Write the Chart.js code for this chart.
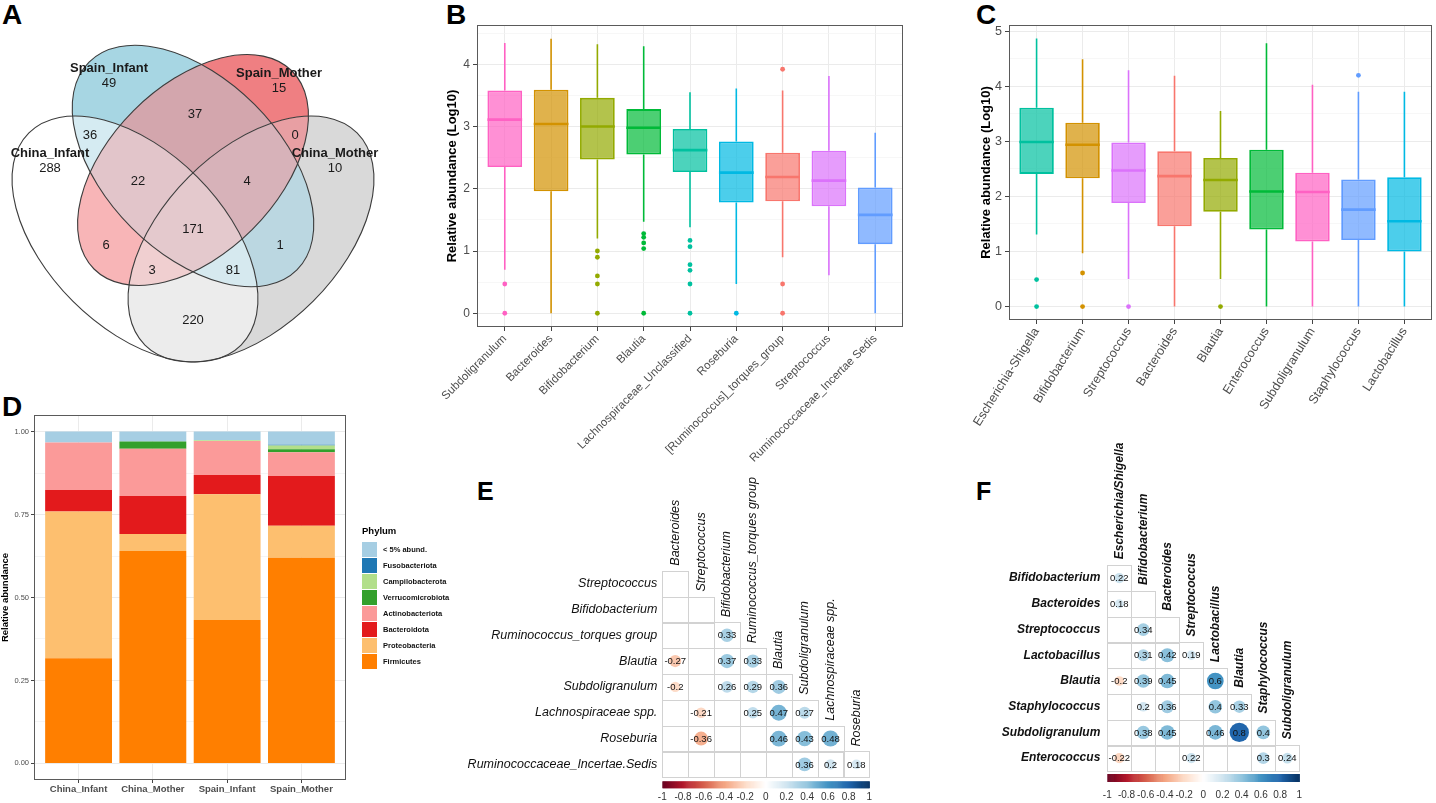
<!DOCTYPE html>
<html><head><meta charset="utf-8">
<script src="https://cdn.jsdelivr.net/npm/chart.js@4.4.1/dist/chart.umd.min.js"></script>
<style>
html,body{margin:0;padding:0;background:#fff;}
body{width:1436px;height:803px;overflow:hidden;position:relative;}
canvas{position:absolute;}
.lab{position:absolute;font-family:'Liberation Sans',Arial,sans-serif;font-weight:bold;color:#000;}
</style></head><body>
<div class="lab" style="left:2px;top:1px;font-size:28px;line-height:28px">A</div>
<div class="lab" style="left:446px;top:1px;font-size:28px;line-height:28px">B</div>
<div class="lab" style="left:976px;top:1px;font-size:28px;line-height:28px">C</div>
<div class="lab" style="left:2px;top:393px;font-size:28px;line-height:28px">D</div>
<div class="lab" style="left:477px;top:479px;font-size:25px;line-height:25px">E</div>
<div class="lab" style="left:976px;top:479px;font-size:25px;line-height:25px">F</div>
<canvas id="cA" width="410" height="385" style="left:0;top:0;width:410px;height:385px"></canvas>
<canvas id="cB" width="500" height="470" style="left:410px;top:0;width:500px;height:470px"></canvas>
<canvas id="cC" width="516" height="470" style="left:920px;top:0;width:516px;height:470px"></canvas>
<canvas id="cD" width="460" height="413" style="left:0;top:390px;width:460px;height:413px"></canvas>
<canvas id="cE" width="425" height="403" style="left:465px;top:400px;width:425px;height:403px"></canvas>
<canvas id="cF" width="476" height="403" style="left:960px;top:400px;width:476px;height:403px"></canvas>
<script>
// ================= DATA =================
// A: Venn
const vennSetNames = ['China_Infant', 'Spain_Infant', 'Spain_Mother', 'China_Mother'];
const vennRegions = [
  'China_Infant', 'Spain_Infant', 'Spain_Mother', 'China_Mother',
  'China_Infant&Spain_Infant', 'Spain_Infant&Spain_Mother', 'Spain_Mother&China_Mother',
  'China_Infant&Spain_Infant&Spain_Mother', 'Spain_Infant&Spain_Mother&China_Mother',
  'China_Infant&Spain_Infant&Spain_Mother&China_Mother',
  'China_Infant&Spain_Mother', 'Spain_Infant&China_Mother',
  'China_Infant&Spain_Mother&China_Mother', 'China_Infant&Spain_Infant&China_Mother',
  'China_Infant&China_Mother'];
const vennCounts = [288, 49, 15, 10, 36, 37, 0, 22, 4, 171, 6, 1, 3, 81, 220];

// B: boxplots (log10 relative abundance), infants? group B
const bGenera = ['Subdoligranulum', 'Bacteroides', 'Bifidobacterium', 'Blautia', 'Lachnospiraceae_Unclassified', 'Roseburia', '[Ruminococcus]_torques_group', 'Streptococcus', 'Ruminococcaceae_Incertae Sedis'];
const bLow  = [0.70, 0.00, 1.20, 1.47, 1.38, 0.47, 0.90, 0.61, 0.00];
const bQ1   = [2.35, 1.96, 2.47, 2.55, 2.27, 1.78, 1.80, 1.72, 1.11];
const bMed  = [3.11, 3.04, 3.00, 2.98, 2.62, 2.26, 2.19, 2.13, 1.58];
const bQ3   = [3.58, 3.59, 3.46, 3.28, 2.96, 2.76, 2.58, 2.61, 2.02];
const bHigh = [4.34, 4.41, 4.32, 4.29, 3.55, 3.61, 3.58, 3.81, 2.90];
const bOutliers = [[0.47, 0], [], [1.0, 0.9, 0.6, 0.47, 0], [1.28, 1.22, 1.13, 1.04, 0], [1.17, 1.07, 0.78, 0.69, 0.47, 0], [0], [3.92, 0.47, 0], [], []];
const bYMajor = [0, 1, 2, 3, 4];
const bYMinor = [0.5, 1.5, 2.5, 3.5, 4.5];

// C
const cGenera = ['Escherichia-Shigella', 'Bifidobacterium', 'Streptococcus', 'Bacteroides', 'Blautia', 'Enterococcus', 'Subdoligranulum', 'Staphylococcus', 'Lactobacillus'];
const cLow  = [1.31, 0.97, 0.50, 0.00, 0.50, 0.00, 0.00, 0.00, 0.00];
const cQ1   = [2.41, 2.33, 1.88, 1.46, 1.72, 1.40, 1.18, 1.21, 1.00];
const cMed  = [2.99, 2.94, 2.47, 2.37, 2.30, 2.09, 2.08, 1.76, 1.55];
const cQ3   = [3.61, 3.34, 2.98, 2.82, 2.70, 2.85, 2.43, 2.31, 2.35];
const cHigh = [4.87, 4.49, 4.29, 4.19, 3.55, 4.78, 4.03, 3.90, 3.90];
const cOutliers = [[0.49, 0], [0.61, 0], [0], [], [0], [], [], [4.20], []];
const cYMajor = [0, 1, 2, 3, 4, 5];
const cYMinor = [0.5, 1.5, 2.5, 3.5, 4.5];

// D: phylum composition
const dGroups = ['China_Infant', 'China_Mother', 'Spain_Infant', 'Spain_Mother'];
const dPhyla = ['Firmicutes', 'Proteobacteria', 'Bacteroidota', 'Actinobacteriota', 'Verrucomicrobiota', 'Campilobacterota', 'Fusobacteriota', '< 5% abund.'];
const dFirmicutes        = [0.317, 0.640, 0.432, 0.620];
const dProteobacteria    = [0.442, 0.051, 0.379, 0.096];
const dBacteroidota      = [0.065, 0.115, 0.058, 0.150];
const dActinobacteriota  = [0.143, 0.142, 0.103, 0.072];
const dVerrucomicrobiota = [0.000, 0.022, 0.000, 0.009];
const dCampilobacterota  = [0.000, 0.000, 0.002, 0.011];
const dFusobacteriota    = [0.000, 0.000, 0.000, 0.002];
const dLowAbund          = [0.033, 0.030, 0.026, 0.040];
const dYMajor = [0, 0.25, 0.5, 0.75, 1];
const dYMinor = [0.125, 0.375, 0.625, 0.875];

// E: correlations
const eRows = ['Streptococcus', 'Bifidobacterium', 'Ruminococcus_torques group', 'Blautia', 'Subdoligranulum', 'Lachnospiraceae spp.', 'Roseburia', 'Ruminococcaceae_Incertae.Sedis'];
const eCols = ['Bacteroides', 'Streptococcus', 'Bifidobacterium', 'Ruminococcus_torques group', 'Blautia', 'Subdoligranulum', 'Lachnospiraceae spp.', 'Roseburia'];
const eRowIdx = [2, 3, 3, 3, 4, 4, 4, 4, 5, 5, 5, 5, 6, 6, 6, 6, 7, 7, 7];
const eColIdx = [2, 0, 2, 3, 0, 2, 3, 4, 1, 3, 4, 5, 1, 4, 5, 6, 5, 6, 7];
const eR      = [0.33, -0.27, 0.37, 0.33, -0.2, 0.26, 0.29, 0.36, -0.21, 0.25, 0.47, 0.27, -0.36, 0.46, 0.43, 0.48, 0.36, 0.2, 0.18];

// F
const fRows = ['Bifidobacterium', 'Bacteroides', 'Streptococcus', 'Lactobacillus', 'Blautia', 'Staphylococcus', 'Subdoligranulum', 'Enterococcus'];
const fCols = ['Escherichia/Shigella', 'Bifidobacterium', 'Bacteroides', 'Streptococcus', 'Lactobacillus', 'Blautia', 'Staphylococcus', 'Subdoligranulum'];
const fRowIdx = [0, 1, 2, 3, 3, 3, 4, 4, 4, 4, 5, 5, 5, 5, 6, 6, 6, 6, 6, 7, 7, 7, 7];
const fColIdx = [0, 0, 1, 1, 2, 3, 0, 1, 2, 4, 1, 2, 4, 5, 1, 2, 4, 5, 6, 0, 3, 6, 7];
const fR      = [0.22, 0.18, 0.34, 0.31, 0.42, 0.19, -0.2, 0.39, 0.45, 0.6, 0.2, 0.36, 0.4, 0.33, 0.38, 0.45, 0.46, 0.8, 0.4, -0.22, 0.22, 0.3, 0.24];
const corrBarTicks = [-1, -0.8, -0.6, -0.4, -0.2, 0, 0.2, 0.4, 0.6, 0.8, 1];

// ================= STYLES / LAYOUT =================
const FONT = "'Liberation Sans', Arial, Helvetica, sans-serif";
Chart.defaults.font.family = FONT;
Chart.defaults.color = '#4d4d4d';
Chart.defaults.animation = false;
Chart.defaults.events = [];
Chart.defaults.responsive = false;
Chart.defaults.devicePixelRatio = 1;
Chart.defaults.plugins.legend.display = false;
Chart.defaults.plugins.tooltip.enabled = false;

const bColors = ['#FF61C3', '#D39200', '#93AA00', '#00BA38', '#00C19F', '#00B9E3', '#F8766D', '#DB72FB', '#619CFF'];
const cColors = ['#00C19F', '#D39200', '#DB72FB', '#F8766D', '#93AA00', '#00BA38', '#FF61C3', '#619CFF', '#00B9E3'];
const dColors = ['#FF7F00', '#FDBF6F', '#E31A1C', '#FB9A99', '#33A02C', '#B2DF8A', '#1F78B4', '#A6CEE3'];

// Venn geometry (chart units == px)
const vennEllipses = [
  {cx: 135, cy: 239, a: 150, b: 88, rot: Math.PI / 4},
  {cx: 193, cy: 166, a: 147, b: 87, rot: Math.PI / 4},
  {cx: 193, cy: 170, a: 140, b: 84, rot: -Math.PI / 4},
  {cx: 251, cy: 239, a: 150, b: 88, rot: -Math.PI / 4}
];
const vennCountPos = [[50, 168], [109, 83], [279, 88], [335, 168], [90, 135], [195, 114], [295, 135], [138, 181], [247, 181], [193, 229], [106, 245], [280, 245], [152, 270], [233, 270], [193, 320]];
const vennNamePos = [[50, 153], [109, 68], [279, 73], [335, 153]];
const vennRegionColor = {1: '#ffffff', 2: '#a7d6e3', 4: '#ef7f82', 8: '#d9d9d9', 3: '#d5ebf2', 5: '#f8b5b7', 9: '#ececec',
  6: '#d3a6ad', 10: '#bbd7e1', 12: '#e89fa3', 7: '#e2c5ca', 11: '#d6e9ef', 13: '#f0cfd0', 14: '#d7b2b9', 15: '#e4c9cd'};

function hexA(h, a) {
  const n = parseInt(h.slice(1), 16);
  return `rgba(${(n >> 16) & 255},${(n >> 8) & 255},${n & 255},${a})`;
}
const rdbu = ['#67001F', '#B2182B', '#D6604D', '#F4A582', '#FDDBC7', '#FFFFFF', '#D1E5F0', '#92C5DE', '#4393C3', '#2166AC', '#053061'];
function corrColor(v) {
  const t = (Math.max(-1, Math.min(1, v)) + 1) / 2 * 10;
  const i = Math.min(9, Math.floor(t)), f = t - i;
  const p = parseInt(rdbu[i].slice(1), 16), q = parseInt(rdbu[i + 1].slice(1), 16);
  const ch = s => Math.round(((p >> s) & 255) * (1 - f) + ((q >> s) & 255) * f);
  return `rgb(${ch(16)},${ch(8)},${ch(0)})`;
}

const framePlugin = {
  id: 'frame',
  afterDraw(ch) {
    const {ctx, chartArea: c} = ch;
    ctx.save();
    ctx.strokeStyle = '#5a5a5a'; ctx.lineWidth = 1;
    ctx.strokeRect(Math.round(c.left) + 0.5, Math.round(c.top) + 0.5, Math.round(c.right - c.left) - 1, Math.round(c.bottom - c.top) - 1);
    ctx.restore();
  }
};

// ================= A: Venn =================
(function () {
  const masks = vennRegions.map(r => r.split('&').reduce((m, s) => m | (1 << vennSetNames.indexOf(s)), 0));
  const plugin = {
    id: 'venn',
    beforeDatasetsDraw(chart) {
      const {ctx, scales: {x, y}} = chart;
      const k = Math.abs(x.getPixelForValue(1) - x.getPixelForValue(0));
      const path = e => ctx.ellipse(x.getPixelForValue(e.cx), y.getPixelForValue(e.cy), e.a * k, e.b * k, e.rot, 0, Math.PI * 2);
      const W = chart.width, H = chart.height;
      masks.forEach(m => {
        ctx.save();
        vennEllipses.forEach((e, i) => {
          ctx.beginPath();
          if (m & (1 << i)) { path(e); ctx.clip(); }
          else { ctx.rect(0, 0, W, H); path(e); ctx.clip('evenodd'); }
        });
        ctx.fillStyle = vennRegionColor[m];
        ctx.fillRect(0, 0, W, H);
        ctx.restore();
      });
      ctx.save();
      ctx.strokeStyle = '#3c3c3c'; ctx.lineWidth = 1.1;
      vennEllipses.forEach(e => { ctx.beginPath(); path(e); ctx.stroke(); });
      ctx.restore();
    },
    afterDatasetsDraw(chart) {
      const {ctx, scales: {x, y}} = chart;
      ctx.save();
      ctx.fillStyle = '#1a1a1a'; ctx.textAlign = 'center'; ctx.textBaseline = 'middle';
      ctx.font = `13px ${FONT}`;
      chart.getDatasetMeta(0).data.forEach((el, i) => ctx.fillText(String(vennCounts[i]), el.x, el.y));
      ctx.font = `bold 13px ${FONT}`;
      vennSetNames.forEach((s, i) => ctx.fillText(s, x.getPixelForValue(vennNamePos[i][0]), y.getPixelForValue(vennNamePos[i][1])));
      ctx.restore();
    }
  };
  new Chart(document.getElementById('cA'), {
    type: 'scatter',
    data: {datasets: [{data: vennCounts.map((v, i) => ({x: vennCountPos[i][0], y: vennCountPos[i][1], v})), pointRadius: 0}]},
    options: {
      layout: {padding: 0},
      scales: {x: {type: 'linear', min: 0, max: 410, display: false}, y: {type: 'linear', min: 0, max: 385, reverse: true, display: false}}
    },
    plugins: [plugin]
  });
})();

// ================= B, C: boxplots =================
function makeBox(id, d, L) {
  const n = d.names.length;
  const all = d.low.concat(d.high, d.outliers.flat());
  const lo = Math.min(...all), hi = Math.max(...all), pad = (hi - lo) * 0.05;
  const ticks = d.yMajor.concat(d.yMinor).sort((a, b) => a - b);
  const isMaj = v => d.yMajor.includes(v);
  const outPts = [], outCols = [];
  d.outliers.forEach((arr, i) => arr.forEach(v => { outPts.push({x: i, y: v}); outCols.push(d.colors[i]); }));
  const extras = {
    id: 'boxExtras',
    afterDatasetsDraw(chart) {
      const {ctx, scales: {y}} = chart;
      const meta = chart.getDatasetMeta(0);
      ctx.save();
      meta.data.forEach((bar, i) => {
        ctx.strokeStyle = d.colors[i];
        ctx.lineWidth = 1.6;
        ctx.beginPath();
        ctx.moveTo(bar.x, y.getPixelForValue(d.high[i])); ctx.lineTo(bar.x, y.getPixelForValue(d.q3[i]));
        ctx.moveTo(bar.x, y.getPixelForValue(d.q1[i])); ctx.lineTo(bar.x, y.getPixelForValue(d.low[i]));
        ctx.stroke();
        ctx.lineWidth = 2.6;
        ctx.beginPath();
        const ym = y.getPixelForValue(d.med[i]);
        ctx.moveTo(bar.x - bar.width / 2, ym); ctx.lineTo(bar.x + bar.width / 2, ym);
        ctx.stroke();
      });
      ctx.restore();
    }
  };
  return new Chart(document.getElementById(id), {
    type: 'bar',
    data: {datasets: [
      {type: 'bar', data: d.names.map((_, i) => ({x: i, y: [d.q1[i], d.q3[i]]})),
       backgroundColor: d.colors.map(c => hexA(c, 0.7)), borderColor: d.colors, borderWidth: 1.8,
       borderSkipped: false, barPercentage: 0.75, categoryPercentage: 1, grouped: false},
      {type: 'scatter', data: outPts, pointRadius: 2.4, pointBackgroundColor: outCols, pointBorderWidth: 0, pointBorderColor: 'rgba(0,0,0,0)'}
    ]},
    options: {
      layout: {padding: {top: L.top, right: L.right, left: 0, bottom: 0}},
      scales: {
        x: {type: 'linear', offset: false, min: -0.6, max: n - 1 + 0.6,
          afterBuildTicks: s => { s.ticks = d.names.map((_, i) => ({value: i})); },
          afterFit: s => { s.height = L.xh; },
          grid: {offset: false, color: '#ebebeb', lineWidth: 1, tickColor: '#444', tickLength: 4},
          border: {display: false},
          ticks: {autoSkip: false, minRotation: L.rot, maxRotation: L.rot, padding: 1, color: '#4d4d4d', font: {size: L.xfs}, callback: v => d.names[v]}},
        y: {type: 'linear', min: lo - pad, max: hi + pad,
          afterBuildTicks: s => { s.ticks = ticks.map(v => ({value: v})); },
          afterFit: s => { s.width = L.yw; },
          grid: {color: c => (c.tick && isMaj(c.tick.value)) ? '#ebebeb' : '#f4f4f4',
                 lineWidth: c => (c.tick && isMaj(c.tick.value)) ? 1 : 0.7,
                 tickColor: c => (c.tick && isMaj(c.tick.value)) ? '#444' : 'rgba(0,0,0,0)', tickLength: 4},
          border: {display: false},
          ticks: {padding: 3, color: '#4d4d4d', font: {size: L.yfs}, callback: v => isMaj(v) ? String(v) : ''},
          title: {display: true, text: 'Relative abundance (Log10)', color: '#000', font: {size: 13, weight: 'bold'}, padding: {top: L.titlePad, bottom: 0}}}
      }
    },
    plugins: [extras, framePlugin]
  });
}
makeBox('cB', {names: bGenera, low: bLow, q1: bQ1, med: bMed, q3: bQ3, high: bHigh, outliers: bOutliers, colors: bColors, yMajor: bYMajor, yMinor: bYMinor},
  {top: 25, right: 7, xh: 143, yw: 67, rot: 45, xfs: 11.5, yfs: 12, titlePad: 35});
makeBox('cC', {names: cGenera, low: cLow, q1: cQ1, med: cMed, q3: cQ3, high: cHigh, outliers: cOutliers, colors: cColors, yMajor: cYMajor, yMinor: cYMinor},
  {top: 25, right: 3, xh: 150, yw: 89, rot: 58, xfs: 12.5, yfs: 12.5, titlePad: 59});

// ================= D: stacked bars =================
(function () {
  const vals = [dFirmicutes, dProteobacteria, dBacteroidota, dActinobacteriota, dVerrucomicrobiota, dCampilobacterota, dFusobacteriota, dLowAbund];
  const ticks = dYMajor.concat(dYMinor).sort((a, b) => a - b);
  const isMaj = v => dYMajor.includes(v);
  const totals = dGroups.map((_, i) => vals.reduce((s, a) => s + a[i], 0));
  const top = Math.max(...totals), pad = top * 0.05;
  const legend = {
    id: 'phylumLegend',
    afterDraw(chart) {
      const {ctx} = chart;
      const x0 = chart.chartArea.right + 16, y0 = 141;
      ctx.save();
      ctx.fillStyle = '#000'; ctx.textBaseline = 'middle'; ctx.textAlign = 'left';
      ctx.font = `bold 9.5px ${FONT}`;
      ctx.fillText('Phylum', x0, y0);
      ctx.font = `bold 7.5px ${FONT}`;
      const ds = chart.data.datasets.slice().reverse();
      ds.forEach((d, k) => {
        const yy = y0 + 11 + k * 16;
        ctx.fillStyle = d.backgroundColor;
        ctx.fillRect(x0, yy, 15, 15);
        ctx.fillStyle = '#111';
        ctx.fillText(d.label, x0 + 21, yy + 8);
      });
      ctx.restore();
    }
  };
  new Chart(document.getElementById('cD'), {
    type: 'bar',
    data: {datasets: dPhyla.map((p, k) => ({label: p, data: vals[k].map((v, i) => ({x: i, y: v})),
      backgroundColor: dColors[k], borderWidth: 0, barPercentage: 0.9, categoryPercentage: 1}))},
    options: {
      layout: {padding: {top: 25, right: 114, left: 0, bottom: 0}},
      scales: {
        x: {type: 'linear', stacked: true, offset: false, min: -0.6, max: dGroups.length - 1 + 0.6,
          afterBuildTicks: s => { s.ticks = dGroups.map((_, i) => ({value: i})); },
          afterFit: s => { s.height = 23; },
          grid: {offset: false, color: '#ebebeb', tickColor: '#444', tickLength: 3},
          border: {display: false},
          ticks: {autoSkip: false, maxRotation: 0, minRotation: 0, padding: 1, color: '#4d4d4d', font: {size: 9.5, weight: 'bold'}, callback: v => dGroups[v]}},
        y: {type: 'linear', stacked: true, min: -pad, max: top + pad,
          afterBuildTicks: s => { s.ticks = ticks.map(v => ({value: v})); },
          afterFit: s => { s.width = 34; },
          grid: {color: c => (c.tick && isMaj(c.tick.value)) ? '#ebebeb' : '#f5f5f5',
                 tickColor: c => (c.tick && isMaj(c.tick.value)) ? '#444' : 'rgba(0,0,0,0)', tickLength: 3},
          border: {display: false},
          ticks: {padding: 2, color: '#4d4d4d', font: {size: 7.5}, callback: v => isMaj(v) ? v.toFixed(2) : ''},
          title: {display: true, text: 'Relative abundance', color: '#000', font: {size: 9.5, weight: 'bold'}, padding: {top: 0, bottom: 0}}}
      }
    },
    plugins: [legend, framePlugin]
  });
})();

// ================= E, F: correlation matrices =================
function makeCorr(id, d, L) {
  const n = d.rows.length;
  const pts = d.r.map((v, k) => ({x: d.colIdx[k], y: d.rowIdx[k], v}));
  const plugin = {
    id: 'corrGrid',
    beforeDatasetsDraw(chart) {
      const {ctx, scales: {x, y}} = chart;
      ctx.save();
      ctx.fillStyle = '#fff';
      ctx.strokeStyle = '#d2d2d2'; ctx.lineWidth = 1;
      for (let i = 0; i < n; i++) for (let j = 0; j <= i; j++) {
        const x0 = x.getPixelForValue(j - 0.5), x1 = x.getPixelForValue(j + 0.5);
        const y0 = y.getPixelForValue(i - 0.5), y1 = y.getPixelForValue(i + 0.5);
        ctx.strokeRect(Math.round(x0) + 0.5, Math.round(y0) + 0.5, Math.round(x1 - x0), Math.round(y1 - y0));
      }
      // labels
      ctx.fillStyle = '#111';
      ctx.font = L.labelFont;
      ctx.textAlign = 'right'; ctx.textBaseline = 'middle';
      d.rows.forEach((r, i) => ctx.fillText(r, x.getPixelForValue(-0.5) - L.rowGap, y.getPixelForValue(i)));
      ctx.textAlign = 'left';
      d.cols.forEach((c, j) => {
        ctx.save();
        ctx.translate(x.getPixelForValue(j), y.getPixelForValue(j - 0.5) - L.colGap);
        ctx.rotate(-Math.PI / 2);
        ctx.fillText(c, 0, 0);
        ctx.restore();
      });
      // colour bar
      const bx0 = x.getPixelForValue(-0.5), bx1 = x.getPixelForValue(n - 0.5);
      const by = y.getPixelForValue(n - 0.5) + L.barGap;
      const steps = 200;
      for (let s = 0; s < steps; s++) {
        ctx.fillStyle = corrColor(-1 + 2 * (s + 0.5) / steps);
        ctx.fillRect(bx0 + (bx1 - bx0) * s / steps, by, (bx1 - bx0) / steps + 0.6, L.barH);
      }
      ctx.fillStyle = '#333'; ctx.font = `10px ${FONT}`; ctx.textAlign = 'center'; ctx.textBaseline = 'middle';
      corrBarTicks.forEach(t => ctx.fillText(String(t), bx0 + (bx1 - bx0) * (t + 1) / 2, by + L.barH + L.tickGap));
      ctx.restore();
    },
    afterDatasetsDraw(chart) {
      const {ctx} = chart;
      ctx.save();
      ctx.fillStyle = '#111'; ctx.font = `9.5px ${FONT}`; ctx.textAlign = 'center'; ctx.textBaseline = 'middle';
      chart.getDatasetMeta(0).data.forEach((el, k) => ctx.fillText(String(d.r[k]), el.x, el.y + 0.5));
      ctx.restore();
    }
  };
  const cell = c => {
    const s = c.chart.scales;
    return Math.min(Math.abs(s.x.getPixelForValue(1) - s.x.getPixelForValue(0)), Math.abs(s.y.getPixelForValue(1) - s.y.getPixelForValue(0)));
  };
  new Chart(document.getElementById(id), {
    type: 'scatter',
    data: {datasets: [{data: pts,
      pointRadius: c => c.raw ? 0.45 * Math.sqrt(Math.abs(c.raw.v)) * cell(c) : 0,
      pointBackgroundColor: c => c.raw ? corrColor(c.raw.v) : '#fff',
      pointBorderWidth: 0, pointBorderColor: 'rgba(0,0,0,0)'}]},
    options: {
      layout: {padding: L.pad},
      scales: {
        x: {type: 'linear', min: -0.5, max: n - 0.5, display: false},
        y: {type: 'linear', min: -0.5, max: n - 0.5, reverse: true, display: false}
      }
    },
    plugins: [plugin]
  });
}
makeCorr('cE', {rows: eRows, cols: eCols, rowIdx: eRowIdx, colIdx: eColIdx, r: eR},
  {pad: {left: 197.3, right: 20.7, top: 170.7, bottom: 25.7}, labelFont: `italic 12.5px ${FONT}`, rowGap: 5, colGap: 5, barGap: 4, barH: 7, tickGap: 9});
makeCorr('cF', {rows: fRows, cols: fCols, rowIdx: fRowIdx, colIdx: fColIdx, r: fR},
  {pad: {left: 147.3, right: 136.7, top: 165.3, bottom: 32}, labelFont: `italic bold 12px ${FONT}`, rowGap: 7, colGap: 6, barGap: 3, barH: 8, tickGap: 13});
</script>
</body></html>
